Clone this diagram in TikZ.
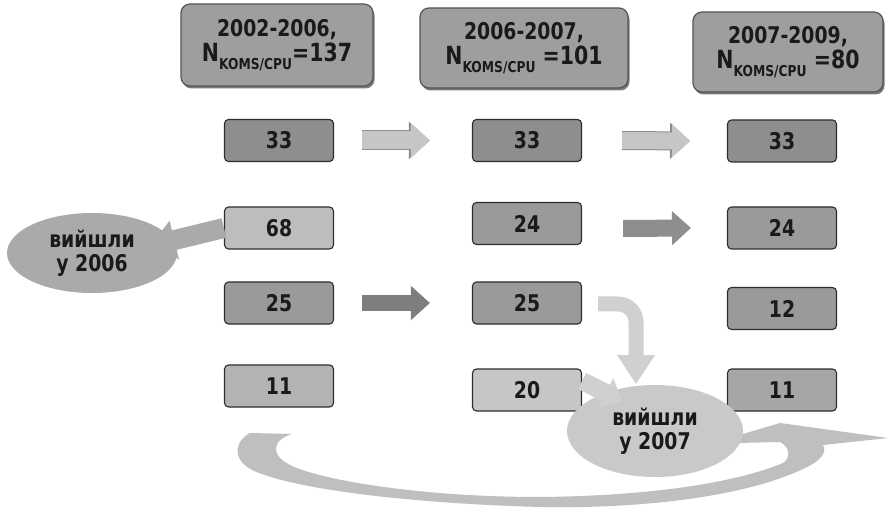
\documentclass[tikz,border=0pt]{standalone}
\usepackage{fontspec}
\setmainfont{DejaVu Sans}[FakeStretch=0.82]
\usetikzlibrary{shapes.geometric,arrows.meta,calc,shadows}
\definecolor{txt}{HTML}{1A1A1A}
\definecolor{hdrfill}{HTML}{9E9E9E}
\definecolor{hdrline}{HTML}{555555}
\definecolor{boxline}{HTML}{2E2E2E}
\definecolor{gA}{HTML}{8E8E8E}
\definecolor{gB}{HTML}{9A9A9A}
\definecolor{gC}{HTML}{BDBDBD}
\definecolor{gD}{HTML}{B3B3B3}
\definecolor{gE}{HTML}{C6C6C6}
\definecolor{gF}{HTML}{A6A6A6}
\definecolor{bandc}{HTML}{BFBFBF}
\definecolor{ellA}{HTML}{AAAAAA}
\definecolor{ellB}{HTML}{C9C9C9}
\definecolor{arLight}{HTML}{C6C6C6}
\definecolor{arEdge}{HTML}{8C8C8C}
\definecolor{arMid}{HTML}{8E8E8E}
\definecolor{arDark}{HTML}{7E7E7E}
\definecolor{arOut}{HTML}{AAAAAA}
\definecolor{arBent}{HTML}{D0D0D0}
\begin{document}
\begin{tikzpicture}[x=1pt,y=-1pt,
  hdr/.style={draw=hdrline, line width=1.2pt, fill=hdrfill, rounded corners=9pt,
    align=center, inner sep=0pt, text=txt,
    drop shadow={shadow xshift=1.5pt, shadow yshift=-2.5pt, fill=black!65, opacity=0.8}},
  cell/.style={draw=boxline, line width=1.1pt, rounded corners=4pt, minimum width=109pt,
    minimum height=42pt, inner sep=0pt, text=txt, font=\fontsize{23}{25}\selectfont\bfseries},
  blob/.style={ellipse, inner sep=0pt, align=center, text=txt,
    font=\fontsize{23}{24}\selectfont\bfseries},
  barrow/.style n args={3}{line width=#1, -{Triangle[width=#2,length=#3]}},
  edged/.style n args={3}{preaction={draw=arEdge, line width=#1, -{Triangle[width=#2,length=#3]}}}
]
\useasboundingbox (0,0) rectangle (888,510);
\fill[white] (0,0) rectangle (888,510);

% big curved arrow at the bottom
\fill[bandc] (250,433) .. controls (236,440) and (230,458) .. (252,470)
  .. controls (290,488) and (400,503) .. (540,507)
  .. controls (650,509) and (750,495) .. (805,468)
  .. controls (822,460) and (827,452) .. (823,445)
  -- (888,438) -- (780,423) -- (736,436) -- (736,443) -- (780,442)
  .. controls (790,447) and (791,458) .. (783,463)
  .. controls (730,485) and (640,496) .. (540,497)
  .. controls (420,497) and (320,480) .. (290,465)
  .. controls (270,455) and (272,440) .. (292,434) -- cycle;

% headers
\newcommand{\hdrtext}[3]{{\fontsize{23}{25}\selectfont\bfseries #1}\\[3pt]
  {\fontsize{25}{27}\selectfont\bfseries N\raisebox{-0.3em}{\fontsize{15}{15}\selectfont KOMS/CPU}#2=#3}}
\node[hdr, minimum width=192pt, minimum height=82pt] (h1) at (277,45) {\hdrtext{2002-2006,}{}{137}};
\node[hdr, minimum width=208pt, minimum height=80pt] (h2) at (524,48) {\hdrtext{2006-2007,}{ }{101}};
\node[hdr, minimum width=190pt, minimum height=80pt] (h3) at (788,52) {\hdrtext{2007-2009,}{ }{80}};

% column 1
\node[cell, fill=gA] (n33a) at (279,140.5) {33};
\node[cell, fill=gC] (n68)  at (279,228) {68};
\node[cell, fill=gB] (n25a) at (279,303) {25};
\node[cell, fill=gD] (n11a) at (279,386) {11};
% column 2
\node[cell, fill=gA] (n33b) at (527,140.5) {33};
\node[cell, fill=gB] (n24b) at (527,223.5) {24};
\node[cell, fill=gB] (n25b) at (527,303) {25};
\node[cell, fill=gE] (n20)  at (527,390) {20};
% column 3
\node[cell, fill=gA] (n33c) at (782,141) {33};
\node[cell, fill=gB] (n24c) at (782,228) {24};
\node[cell, fill=gB] (n12)  at (782,308.5) {12};
\node[cell, fill=gF] (n11c) at (782,390) {11};

% ellipses
\node[blob, fill=ellA, minimum width=170pt, minimum height=80pt] (e06) at (92,253) {вийшли\\у 2006};
\node[blob, fill=ellB, minimum width=176pt, minimum height=92pt] (e07) at (655,431) {вийшли\\у 2007};

\coordinate (t06) at (150,246);
\coordinate (t07a) at (636,384);
\coordinate (t07b) at (622,401);

% arrows between columns
\draw[edged={20pt}{36pt}{21pt}, barrow={18pt}{33pt}{19pt}, arLight] ($(n33a.east)+(28,0)$) -- ($(n33b.west)+(-42,0)$);
\draw[edged={19pt}{35pt}{20pt}, barrow={17pt}{32pt}{18pt}, arLight] ($(n33b.east)+(40,0)$) -- ($(n33c.west)+(-37,0)$);
\draw[barrow={17pt}{33pt}{19pt}, arMid] ($(n24b.east)+(41,5)$) -- ($(n24c.west)+(-36,0)$);
\draw[barrow={16pt}{33pt}{19pt}, arDark] ($(n25a.east)+(28,0)$) -- ($(n25b.west)+(-42,0)$);

% arrows to the ellipses
\draw[barrow={20pt}{38pt}{25pt}, arOut] (n68.west) -- (t06);
\draw[barrow={15pt}{36pt}{29pt}, arBent, rounded corners=18pt]
  ($(n25b.east)+(16,1)$) -- (636,304) -- (t07a);
\draw[barrow={18pt}{32pt}{18pt}, arBent] ($(n20.east)+(0,-9)$) -- (t07b);
\end{tikzpicture}
\end{document}
